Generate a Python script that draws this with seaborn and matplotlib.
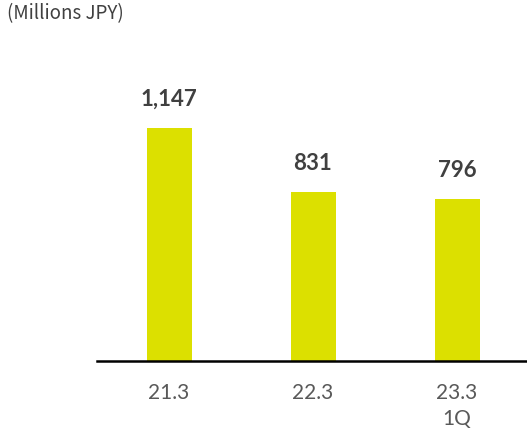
import matplotlib
matplotlib.use("Agg")
import matplotlib.pyplot as plt
import seaborn as sns
import pandas as pd

categories = ["21.3", "22.3", "23.3\n1Q"]
values = [1147, 831, 796]
value_labels = ["1,147", "831", "796"]

sns.set_style("white")
plt.rcParams['font.family'] = ['Lato', 'DejaVu Sans']

W, H = 527, 429
fig = plt.figure(figsize=(W / 100, H / 100), dpi=100)
base_y = 360.7
top_y = 40
ax = fig.add_axes([97 / W, (H - base_y) / H, 430 / W, (base_y - top_y) / H])

df = pd.DataFrame({"cat": categories, "val": values})
sns.barplot(data=df, x="cat", y="val", color="#dce000", saturation=1,
            width=0.3125, ax=ax, edgecolor="none")

ax.set_xlim(-0.5, 430 / 144 - 0.5)
ax.set_ylim(0, (base_y - top_y) / 0.2032)

for i, (v, lab) in enumerate(zip(values, value_labels)):
    ax.annotate(lab, (i, v), xytext=(0, 18), textcoords="offset pixels",
                ha="center", va="bottom", fontsize=16, fontweight="bold",
                color="#404040")

for s in ["top", "right", "left"]:
    ax.spines[s].set_visible(False)
ax.spines["bottom"].set_color("black")
ax.spines["bottom"].set_linewidth(1.8)
ax.set_yticks([])
ax.set_xlabel("")
ax.set_ylabel("")
ax.tick_params(axis="x", length=0, pad=16, labelsize=15, labelcolor="#595959")
for t in ax.get_xticklabels():
    t.set_linespacing(1.35)

fig.text(7 / W, 1 - 3 / H, "(Millions JPY)", ha="left", va="top",
         fontsize=13.5, color="#404040",
         family=['Noto Sans CJK JP', 'DejaVu Sans'])

fig.savefig("out.png", dpi=100)
